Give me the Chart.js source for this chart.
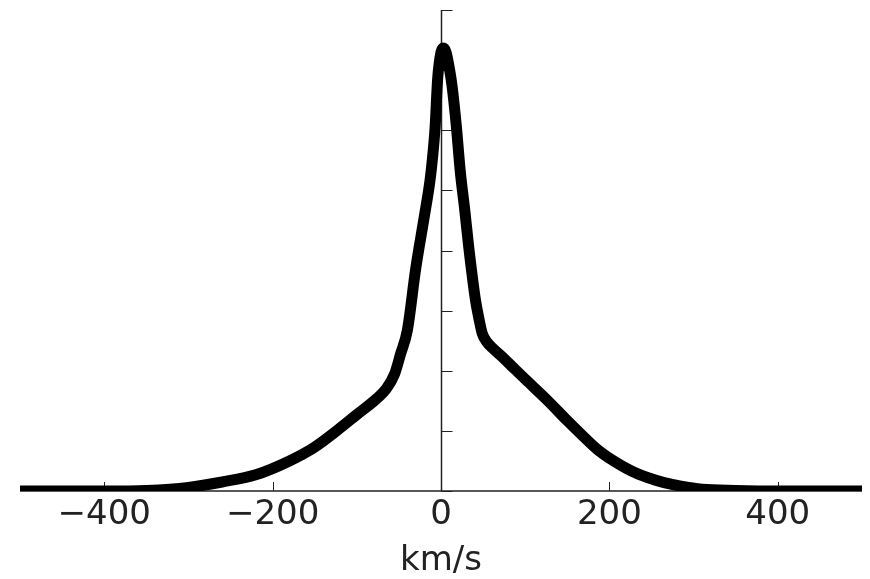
<!DOCTYPE html>
<html>
<head>
<meta charset="utf-8">
<script src="https://cdn.jsdelivr.net/npm/chart.js@4/dist/chart.umd.min.js"></script>
<style>
  html, body { margin: 0; padding: 0; background: #fff; }
  #wrap { width: 870px; height: 579px; }
</style>
</head>
<body>
<div id="wrap"><canvas id="profile" width="870" height="579"></canvas></div>
<script>
// velocity (km/s) and line profile height
const velocity = [-500, -400, -350, -300, -260, -220, -180, -150, -124, -100, -76, -65, -55, -48, -40,
  -30, -20, -13, -10, -7, -4, 0, 3, 6, 9, 13, 18, 23, 28, 33, 41, 45, 49, 55, 61, 75, 86, 100, 127, 150,
  166, 185, 205, 225, 246, 265, 285, 310, 350, 400, 500];
const flux = [0, 0, 0.01, 0.06, 0.15, 0.27, 0.5, 0.73, 1.0, 1.27, 1.54, 1.7, 1.95, 2.28, 2.67,
  3.7, 4.55, 5.17, 5.55, 6.05, 6.85, 7.3, 7.37, 7.3, 7.1, 6.75, 6.1, 5.3, 4.7, 4.05, 3.17, 2.87, 2.62, 2.47, 2.38, 2.2, 2.05, 1.86, 1.5, 1.17,
  0.95, 0.7, 0.5, 0.34, 0.22, 0.14, 0.08, 0.03, 0.01, 0, 0];

const xTicks = [-400, -200, 0, 200, 400];
const xTickLabels = ["\u2212400", "\u2212200", "0", "200", "400"];
const yTicks = [0, 1, 2, 3, 4, 5, 6, 7, 8];

const axisColor = "#222";

// spines and inward tick marks (matplotlib style), drawn under the curve
const axesPlugin = {
  id: "axes",
  beforeDatasetsDraw(chart) {
    const ctx = chart.ctx;
    const xs = chart.scales.x;
    const ys = chart.scales.y;
    const x0 = Math.round(xs.getPixelForValue(0)) + 0.5;
    const yb = ys.getPixelForValue(0);
    ctx.save();
    ctx.strokeStyle = axisColor;
    ctx.lineWidth = 1.5;
    ctx.beginPath();
    ctx.moveTo(chart.chartArea.left, yb);
    ctx.lineTo(chart.chartArea.right, yb);
    ctx.moveTo(x0, ys.getPixelForValue(8));
    ctx.lineTo(x0, yb);
    ctx.stroke();
    ctx.lineWidth = 1;
    ctx.beginPath();
    yTicks.forEach(v => {
      const py = Math.round(ys.getPixelForValue(v)) + 0.5;
      ctx.moveTo(x0, py);
      ctx.lineTo(x0 + 11, py);
    });
    xTicks.forEach(v => {
      const px = Math.round(xs.getPixelForValue(v)) + 0.5;
      ctx.moveTo(px, yb);
      ctx.lineTo(px, yb - 9);
    });
    ctx.stroke();
    ctx.restore();
  }
};

new Chart(document.getElementById("profile"), {
  type: "line",
  data: {
    datasets: [{
      data: velocity.map((v, i) => ({ x: v, y: flux[i] })),
      borderColor: "#000",
      borderWidth: 11,
      pointRadius: 0,
      fill: false,
      cubicInterpolationMode: "monotone",
      borderCapStyle: "round",
      borderJoinStyle: "round"
    }]
  },
  options: {
    responsive: false,
    animation: false,
    layout: { padding: { left: 20, right: 8, top: 10, bottom: 1 } },
    plugins: { legend: { display: false }, tooltip: { enabled: false } },
    scales: {
      x: {
        type: "linear",
        min: -500,
        max: 500,
        afterBuildTicks: scale => { scale.ticks = xTicks.map(v => ({ value: v })); },
        grid: { display: false, drawTicks: false },
        border: { display: false },
        ticks: {
          padding: 7,
          color: axisColor,
          maxRotation: 0,
          font: { family: "DejaVu Sans", size: 34, lineHeight: 1 },
          callback: v => xTickLabels[xTicks.indexOf(v)]
        },
        title: {
          display: true,
          text: "km/s",
          color: axisColor,
          padding: { top: 5, bottom: 0 },
          font: { family: "DejaVu Sans", size: 34, lineHeight: 1 }
        }
      },
      y: {
        display: false,
        min: 0,
        max: 8
      }
    }
  },
  plugins: [axesPlugin]
});
</script>
</body>
</html>
